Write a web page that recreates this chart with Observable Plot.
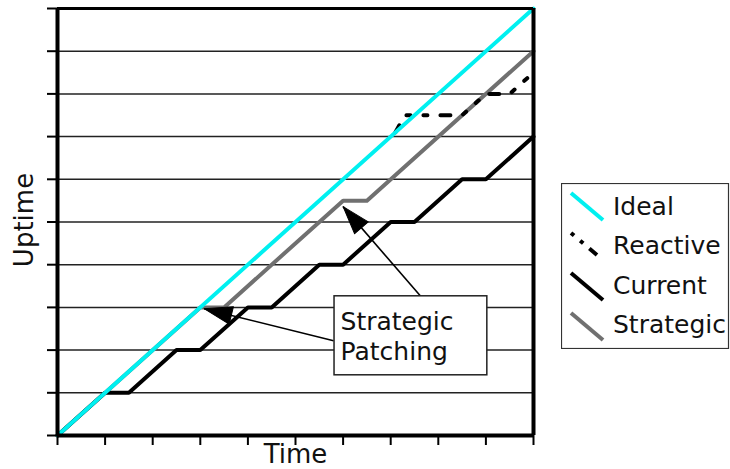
<!DOCTYPE html>
<html>
<head>
<meta charset="utf-8">
<script src="https://cdn.jsdelivr.net/npm/d3@7"></script>
<script src="https://cdn.jsdelivr.net/npm/@observablehq/plot@0.6"></script>
<style>
  html, body { margin: 0; padding: 0; background: #fff; }
  #wrap { position: relative; width: 730px; height: 469px; font-family: "DejaVu Sans", sans-serif; }
  #legend { position: absolute; left: 561px; top: 183px; }
</style>
</head>
<body>
<div id="wrap"><div id="chart"></div><div id="legend"></div></div>
<script>
// ---- data ----
const timeTicks = [0, 1, 2, 3, 4, 5, 6, 7, 8, 9, 10];
const uptimeTicks = [0, 1, 2, 3, 4, 5, 6, 7, 8, 9, 10];
const gridY = [1, 2, 3, 4, 5, 6, 7, 8, 9];

const idealX = [0, 10];
const idealY = [0, 10];
const currentX = [0, 1, 1.5, 2.5, 3, 4, 4.5, 5.5, 6, 7, 7.5, 8.5, 9, 10];
const currentY = [0, 1, 1, 2, 2, 3, 3, 4, 4, 5, 5, 6, 6, 7];
const strategicX = [0, 3, 3.5, 6, 6.5, 10];
const strategicY = [0, 3, 3, 5.5, 5.5, 9];
const reactiveX = [7.1, 7.3, 8.5, 9, 9.5, 10];
const reactiveY = [7.1, 7.5, 7.5, 8, 8, 8.5];

const seriesNames = ["Ideal", "Reactive", "Current", "Strategic"];
const seriesColors = ["#00f0f0", "#000000", "#000000", "#707070"];

// annotation (data units)
const boxX = [5.82, 9.03];
const boxY = [1.41, 3.26];
const boxLines = ["Strategic", "Patching"];
const arrowTailX = [5.80, 7.63];
const arrowTailY = [2.22, 3.26];
const arrowTipX = [3.08, 6.0];
const arrowTipY = [2.97, 5.36];

// ---- layout ----
const W = 730, H = 469, ML = 57, MR = 197, MT = 8, MB = 34;
const kx = (W - ML - MR) / 10, ky = (H - MT - MB) / 10;
const reactiveDash = "4,13,4,13,10,13";

const toRows = (xs, ys) => xs.map((x, i) => ({x, y: ys[i]}));
const arrows = arrowTailX.map((x1, i) => {
  const dxs = (arrowTipX[i] - x1) * kx;
  const dys = -(arrowTipY[i] - arrowTailY[i]) * ky;
  return {x1, y1: arrowTailY[i], x2: arrowTipX[i], y2: arrowTipY[i],
          angle: Math.atan2(dxs, -dys) * 180 / Math.PI};
});
const headShape = {
  draw(context, l) {
    const w = 9;
    context.moveTo(0, -l);
    context.lineTo(-w, 0);
    context.lineTo(w, 0);
    context.closePath();
  }
};

const chart = Plot.plot({
  width: W, height: H,
  marginLeft: ML, marginRight: MR, marginTop: MT, marginBottom: MB,
  style: {fontFamily: "DejaVu Sans, sans-serif", background: "white", overflow: "visible"},
  x: {domain: [0, 10], axis: null},
  y: {domain: [0, 10], axis: null},
  marks: [
    Plot.ruleY(gridY, {stroke: "#222", strokeWidth: 1.5}),
    Plot.line(toRows(strategicX, strategicY), {x: "x", y: "y", stroke: seriesColors[3], strokeWidth: 4}),
    Plot.line(toRows(currentX, currentY), {x: "x", y: "y", stroke: seriesColors[2], strokeWidth: 4, strokeLinejoin: "miter"}),
    Plot.line(toRows(reactiveX, reactiveY), {x: "x", y: "y", stroke: seriesColors[1], strokeWidth: 4, strokeDasharray: reactiveDash, strokeDashoffset: 36}),
    Plot.line(toRows(idealX, idealY), {x: "x", y: "y", stroke: seriesColors[0], strokeWidth: 4}),
    Plot.link(arrows, {x1: "x1", y1: "y1", x2: "x2", y2: "y2", stroke: "#000", strokeWidth: 1.6}),
    Plot.vector(arrows, {x: "x2", y: "y2", rotate: "angle", length: 28, anchor: "end", shape: headShape, fill: "#000", stroke: "#000", strokeWidth: 1}),
    Plot.rect([0], {x1: boxX[0], x2: boxX[1], y1: boxY[0], y2: boxY[1], fill: "white", stroke: "#222", strokeWidth: 1.5}),
    Plot.text([boxLines.join("\n")], {x: boxX[0], y: (boxY[0] + boxY[1]) / 2, dx: 6, textAnchor: "start", lineHeight: 1.2, fontSize: 25, fill: "#111"}),
    Plot.ruleX([0], {stroke: "#000", strokeWidth: 4}),
    Plot.ruleX([10], {stroke: "#000", strokeWidth: 4}),
    Plot.ruleY([0], {stroke: "#000", strokeWidth: 4}),
    Plot.ruleY([10], {stroke: "#000", strokeWidth: 3}),
    Plot.axisX({ticks: timeTicks, tickSize: 10, tickFormat: () => "", label: null, strokeWidth: 2}),
    Plot.axisY({ticks: uptimeTicks, tickSize: 10, tickFormat: () => "", label: null, strokeWidth: 2}),
    Plot.text(["Time"], {frameAnchor: "bottom", dy: 27, fontSize: 26, fill: "#111"}),
    Plot.text(["Uptime"], {frameAnchor: "left", textAnchor: "middle", dx: -33, dy: -2, rotate: -90, fontSize: 26, fill: "#111"})
  ]
});
document.getElementById("chart").appendChild(chart);

// ---- legend ----
const lg = d3.select("#legend").append("svg").attr("width", 169).attr("height", 166)
  .style("font-family", "DejaVu Sans, sans-serif");
lg.append("rect").attr("x", 0.5).attr("y", 0.5).attr("width", 167).attr("height", 165)
  .attr("fill", "white").attr("stroke", "#333").attr("stroke-width", 1.2);
seriesNames.forEach((name, i) => {
  const y0 = 10 + i * 40;
  lg.append("line").attr("x1", 10).attr("y1", y0).attr("x2", 42).attr("y2", y0 + 27)
    .attr("stroke", seriesColors[i]).attr("stroke-width", 4)
    .attr("stroke-dasharray", name === "Reactive" ? "4,8,4,8,10,8" : null);
  lg.append("text").attr("x", 52).attr("y", 32 + i * 39.3).attr("font-size", 25)
    .attr("fill", "#111").text(name);
});
</script>
</body>
</html>
